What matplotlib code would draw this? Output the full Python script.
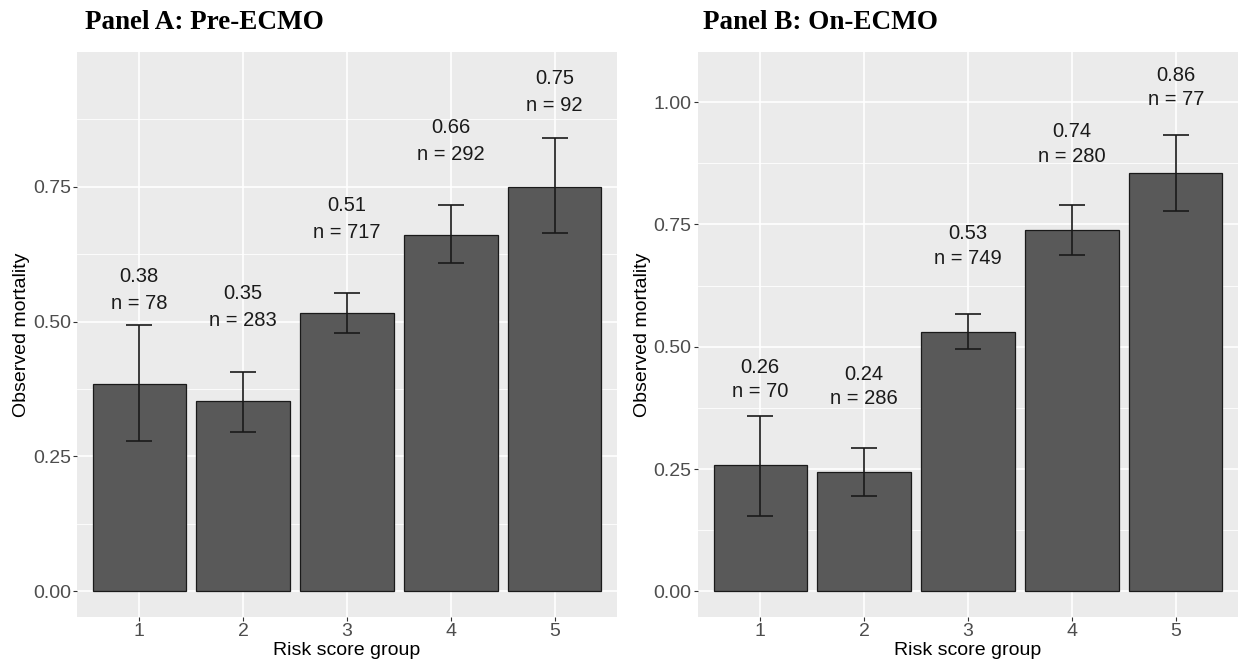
import numpy as np
import matplotlib
matplotlib.use("Agg")
import matplotlib.pyplot as plt
from matplotlib.ticker import MultipleLocator

# Data ------------------------------------------------------------------------
groups = [1, 2, 3, 4, 5]

pre_mean = [0.384, 0.352, 0.515, 0.660, 0.750]
pre_low = [0.278, 0.295, 0.479, 0.609, 0.664]
pre_high = [0.494, 0.406, 0.553, 0.716, 0.840]
pre_labels = ["0.38", "0.35", "0.51", "0.66", "0.75"]
pre_n = [78, 283, 717, 292, 92]

on_mean = [0.258, 0.244, 0.531, 0.739, 0.855]
on_low = [0.154, 0.195, 0.496, 0.688, 0.777]
on_high = [0.359, 0.293, 0.567, 0.789, 0.933]
on_labels = ["0.26", "0.24", "0.53", "0.74", "0.86"]
on_n = [70, 286, 749, 280, 77]

plt.rcParams["font.family"] = ["Liberation Sans", "DejaVu Sans"]

W, H = 1238, 664
fig = plt.figure(figsize=(W / 100, H / 100), dpi=100)


def px_axes(x0, y0, x1, y1):
    return fig.add_axes([x0 / W, 1 - y1 / H, (x1 - x0) / W, (y1 - y0) / H])


def panel(ax, mean, low, high, labels, n, ymax, yticks):
    x = np.array(groups)
    mean = np.array(mean)
    ax.set_facecolor("#EBEBEB")
    for s in ax.spines.values():
        s.set_visible(False)
    ax.set_axisbelow(True)
    ax.bar(x, mean, width=0.9, color="#595959", edgecolor="#1a1a1a", linewidth=0.9, zorder=2)
    err = [mean - np.array(low), np.array(high) - mean]
    ax.errorbar(x, mean, yerr=err, fmt="none", ecolor="#1a1a1a", elinewidth=1.2,
                capsize=9.5, capthick=1.2, zorder=3)
    for xi, m, lab, ni in zip(x, mean, labels, n):
        ax.text(xi, m + 0.20, lab, ha="center", va="center", fontsize=14.5, color="#1a1a1a")
        ax.text(xi, m + 0.15, "n = %d" % ni, ha="center", va="center", fontsize=14.5, color="#1a1a1a")
    top = ymax
    ax.set_xlim(0.4, 5.6)
    ax.set_ylim(-0.05 * top, top * 1.05)
    ax.set_xticks(x)
    ax.set_yticks(yticks)
    ax.set_yticklabels(["%.2f" % t for t in yticks])
    ax.yaxis.set_minor_locator(MultipleLocator(0.125))
    ax.grid(which="major", color="white", linewidth=1.2)
    ax.grid(which="minor", axis="y", color="white", linewidth=0.6)
    ax.tick_params(which="major", length=3, width=0.8, color="#333333", pad=1.5,
                   labelsize=14, labelcolor="#4D4D4D")
    ax.tick_params(which="minor", length=0)
    ax.set_xlabel("Risk score group", fontsize=14, labelpad=1.5)
    ax.set_ylabel("Observed mortality", fontsize=14, labelpad=2)


axA = px_axes(77, 52, 617, 617)
panel(axA, pre_mean, pre_low, pre_high, pre_labels, pre_n, 0.952, [0.0, 0.25, 0.5, 0.75])

axB = px_axes(698, 52, 1238, 617)
panel(axB, on_mean, on_low, on_high, on_labels, on_n, 1.05, [0.0, 0.25, 0.5, 0.75, 1.0])

title_font = dict(family=["Liberation Serif", "DejaVu Serif"], fontweight="bold", fontsize=19.5)
fig.text(85 / W, 1 - 29 / H, "Panel A: Pre-ECMO", va="baseline", ha="left", **title_font)
fig.text(703 / W, 1 - 29 / H, "Panel B: On-ECMO", va="baseline", ha="left", **title_font)

fig.savefig("out.png", dpi=100)
